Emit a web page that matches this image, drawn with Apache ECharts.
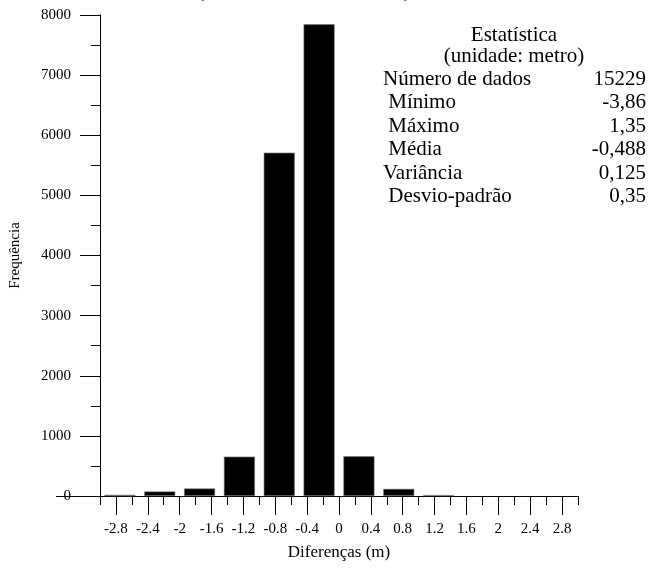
<!DOCTYPE html>
<html>
<head>
<meta charset="utf-8">
<script src="https://cdn.jsdelivr.net/npm/echarts@6/dist/echarts.min.js"></script>
<style>
html,body{margin:0;padding:0;background:#fff;}
#c{width:652px;height:568px;}
</style>
</head>
<body>
<div id="c"></div>
<script>
// ---- data ----
var binCenters = [-2.75, -2.25, -1.75, -1.25, -0.75, -0.25, 0.25, 0.75, 1.25];
var frequencies = [20, 75, 125, 655, 5710, 7845, 660, 118, 15];
var xLabelTicks = [-2.8, -2.4, -2, -1.6, -1.2, -0.8, -0.4, 0, 0.4, 0.8, 1.2, 1.6, 2, 2.4, 2.8];
var xMinorTicks = [-3, -2.6, -2.2, -1.8, -1.4, -1, -0.6, -0.2, 0.2, 0.6, 1, 1.4, 1.8, 2.2, 2.6, 3];
var statTitle = ['Estatística', '(unidade: metro)'];
var statLabels = ['Número de dados', ' Mínimo', ' Máximo', ' Média', 'Variância', ' Desvio-padrão'];
var statValues = ['15229', '-3,86', '1,35', '-0,488', '0,125', '0,35'];
var chartTitle = '(unidade: metro)';
var xName = 'Diferenças (m)';
var yName = 'Frequência';

var FONT = '"Liberation Serif", "Times New Roman", serif';
var chart = echarts.init(document.getElementById('c'), null, {renderer: 'canvas'});

var barData = binCenters.map(function (x, i) { return [x, frequencies[i]]; });

var graphics = [];
graphics.push({
  type: 'text', x: 304, y: 2,
  style: {text: chartTitle, font: '33px ' + FONT, fill: '#000', align: 'center', verticalAlign: 'bottom'}
});
statTitle.forEach(function (t, i) {
  graphics.push({
    type: 'text', x: 514, y: 35 + i * 21,
    style: {text: t, font: '21px ' + FONT, fill: '#000', align: 'center', verticalAlign: 'middle'}
  });
});
statLabels.forEach(function (t, i) {
  graphics.push({
    type: 'text', x: 383, y: 79 + i * 23.5,
    style: {text: t, font: '21px ' + FONT, fill: '#000', align: 'left', verticalAlign: 'middle'}
  });
  graphics.push({
    type: 'text', x: 646, y: 79 + i * 23.5,
    style: {text: statValues[i], font: '21px ' + FONT, fill: '#000', align: 'right', verticalAlign: 'middle'}
  });
});

var option = {
  animation: false,
  backgroundColor: '#fff',
  textStyle: {fontFamily: FONT, color: '#000'},
  grid: {left: 99, right: 74, top: 15, bottom: 72},
  xAxis: [
    {
      type: 'value', min: -3, max: 3, position: 'bottom',
      axisLine: {show: true, onZero: false, lineStyle: {color: '#000', width: 1}},
      axisTick: {show: true, customValues: xMinorTicks, length: 9, lineStyle: {color: '#000'}},
      axisLabel: {show: false},
      splitLine: {show: false}
    },
    {
      type: 'value', min: -3, max: 3, position: 'bottom',
      axisLine: {show: false, onZero: false},
      axisTick: {show: true, customValues: xLabelTicks, length: 19, lineStyle: {color: '#000'}},
      axisLabel: {
        show: true, customValues: xLabelTicks, margin: 26,
        fontFamily: FONT, fontSize: 15, color: '#000',
        formatter: function (v) { return String(Math.round(v * 10) / 10); }
      },
      splitLine: {show: false},
      name: xName, nameLocation: 'middle', nameGap: 48,
      nameTextStyle: {fontFamily: FONT, fontSize: 17, color: '#000'}
    }
  ],
  yAxis: [
    {
      type: 'value', min: 0, max: 8000, interval: 1000, position: 'left',
      axisLine: {show: true, onZero: false, lineStyle: {color: '#000', width: 1}},
      axisTick: {show: true, length: 20, lineStyle: {color: '#000'}},
      minorTick: {show: true, splitNumber: 2, length: 9, lineStyle: {color: '#000'}},
      axisLabel: {margin: 29, fontFamily: FONT, fontSize: 15, color: '#000',
        formatter: function (v) { return String(v); }},
      splitLine: {show: false},
      minorSplitLine: {show: false},
      name: yName, nameLocation: 'middle', nameGap: 77,
      nameTextStyle: {fontFamily: FONT, fontSize: 15, color: '#000'}
    },
    {
      type: 'value', min: 0, max: 8000, position: 'left',
      axisLine: {show: false, onZero: false},
      axisTick: {show: true, customValues: [0], length: 44, lineStyle: {color: '#000'}},
      axisLabel: {show: false},
      splitLine: {show: false}
    }
  ],
  series: [{
    type: 'bar', xAxisIndex: 0, yAxisIndex: 0,
    data: barData, barWidth: 31,
    itemStyle: {color: '#000', borderColor: '#777', borderWidth: 0.6}
  }],
  graphic: graphics
};
chart.setOption(option);
</script>
</body>
</html>
